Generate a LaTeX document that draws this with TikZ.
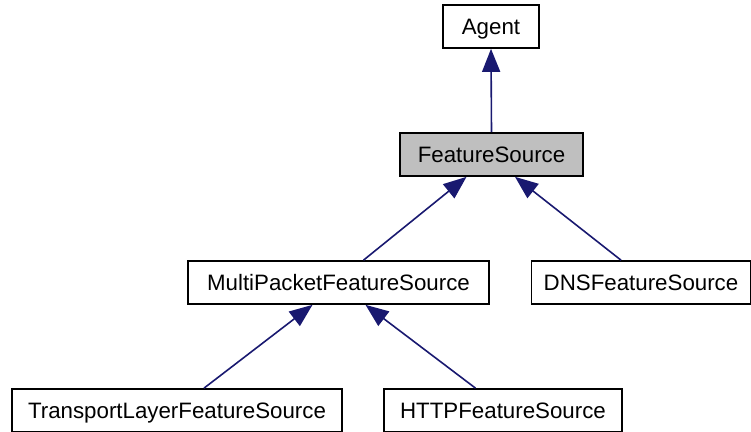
\documentclass[tikz,border=0pt]{standalone}
\usepackage{fontspec}
\setmainfont{Liberation Sans}
\usetikzlibrary{arrows.meta}
\definecolor{edgeblue}{HTML}{191970}
\definecolor{boxgray}{HTML}{BFBFBF}
\begin{document}
\begin{tikzpicture}[x=1pt,y=-1pt,
  classbox/.style={draw=black, line width=1.7pt, fill=white, inner sep=0pt,
    minimum height=43pt, font=\fontsize{22.3}{25}\selectfont,
    text height=16pt, text depth=0pt, anchor=center},
  current/.style={fill=boxgray},
  inherit/.style={draw=edgeblue, line width=1.6pt,
    -{Triangle[length=23pt,width=18pt]}, color=edgeblue}]
  \useasboundingbox (0,0) rectangle (751,431);
  % class boxes
  \node[classbox, minimum width=96pt] (agent) at (491,26.5) {Agent};
  \node[classbox, current, minimum width=183pt] (fs) at (491.5,154.5) {FeatureSource};
  \node[classbox, minimum width=301pt] (multi) at (338.5,282.5) {MultiPacketFeatureSource};
  \node[classbox, minimum width=219pt] (dns) at (641,282.5) {DNSFeatureSource};
  \node[classbox, minimum width=330pt] (transport) at (177,410.5) {TransportLayerFeatureSource};
  \node[classbox, minimum width=238pt] (http) at (503,410.5) {HTTPFeatureSource};
  % inheritance edges
  \draw[inherit] (fs.north) -- (agent.south);
  \draw[inherit] ([xshift=25pt]multi.north) -- ([xshift=-25pt]fs.south);
  \draw[inherit] ([xshift=-20pt]dns.north) -- ([xshift=23.5pt]fs.south);
  \draw[inherit] ([xshift=27pt]transport.north) -- ([xshift=-26pt]multi.south);
  \draw[inherit] ([xshift=-27.5pt]http.north) -- ([xshift=27pt]multi.south);
\end{tikzpicture}
\end{document}
